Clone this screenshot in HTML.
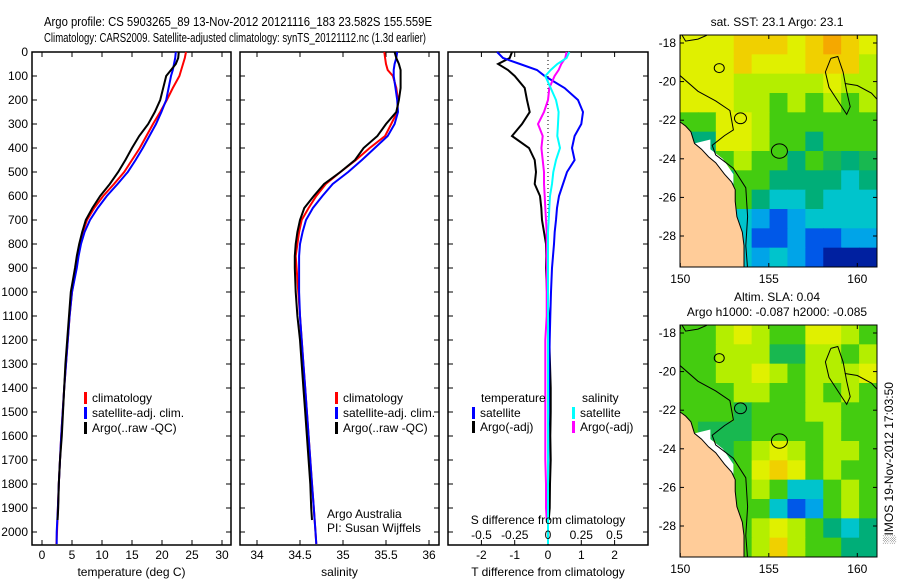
<!DOCTYPE html>
<html><head><meta charset="utf-8">
<style>
html,body{margin:0;padding:0;background:#fff;}
svg{display:block;font-family:"Liberation Sans",sans-serif;}
text{font-size:12px;fill:#000;}
</style></head>
<body>
<svg id="fig" width="900" height="580" viewBox="0 0 900 580" xmlns="http://www.w3.org/2000/svg">
<text x="44" y="26" style="font-size:13px" textLength="388" lengthAdjust="spacingAndGlyphs">Argo profile: CS 5903265_89 13-Nov-2012 20121116_183 23.582S 155.559E</text>
<text x="44" y="42" style="font-size:13px" textLength="382" lengthAdjust="spacingAndGlyphs">Climatology: CARS2009. Satellite-adjusted climatology: synTS_20121112.nc (1.3d earlier)</text>
<g id="g"></g>
</svg>
<script>
// ---------- data ----------
const depths = [0,25,50,75,100,150,200,250,300,350,400,450,500,550,600,650,700,750,800,850,900,1000,1100,1200,1300,1400,1500,1600,1700,1800,1900,2000,2050];
const argoDepths = [0,25,50,75,100,150,200,250,300,350,400,450,500,550,600,650,700,750,800,850,900,1000,1100,1200,1300,1400,1500,1600,1700,1800,1900,1950];
const tempClim = [24,23.8,23.5,23.2,22.9,21.8,20.8,19.7,18.5,17.4,16.3,15.0,13.7,12.0,10.2,8.7,7.5,6.8,6.3,6.0,5.7,5.0,4.6,4.3,4.0,3.7,3.45,3.2,3.0,2.8,2.65,2.5,2.4];
const tempSat = [22.3,22.2,22.0,21.8,21.5,21.1,20.7,19.9,19.0,17.9,16.8,15.6,14.3,12.6,10.8,9.3,8.0,7.1,6.5,6.1,5.8,5.0,4.6,4.3,4.0,3.7,3.45,3.2,3.0,2.8,2.65,2.45,2.45];
const tempArgo = [22.8,22.7,22.3,21.5,20.7,20.2,19.7,18.8,17.7,16.2,15.0,13.9,12.7,11.3,9.7,8.4,7.3,6.7,6.2,5.8,5.5,4.8,4.5,4.2,3.9,3.7,3.5,3.3,3.0,2.8,2.7,2.6];
const salClim = [35.48,35.49,35.50,35.52,35.58,35.62,35.64,35.63,35.56,35.49,35.31,35.15,34.97,34.80,34.69,34.60,34.52,34.49,34.47,34.45,34.46,34.48,34.50,34.52,34.54,34.56,34.58,34.60,34.62,34.64,34.66,34.68,34.69];
const salSat = [35.63,35.62,35.60,35.59,35.59,35.61,35.63,35.64,35.60,35.52,35.37,35.22,35.06,34.88,34.76,34.65,34.57,34.53,34.50,34.49,34.49,34.49,34.50,34.52,34.54,34.56,34.58,34.60,34.62,34.64,34.66,34.68,34.69];
const salArgo = [35.60,35.62,35.65,35.67,35.67,35.67,35.65,35.62,35.50,35.40,35.24,35.14,34.97,34.78,34.66,34.55,34.50,34.47,34.45,34.44,34.44,34.45,34.47,34.50,34.52,34.54,34.56,34.58,34.60,34.62,34.63,34.64];
const dTArgo = [-1.08,-1.15,-1.5,-1.2,-1.0,-0.7,-0.63,-0.55,-0.78,-1.08,-0.57,-0.4,-0.36,-0.4,-0.24,-0.2,-0.18,-0.12,-0.06,-0.05,-0.06,-0.03,0.02,0.04,0.06,0.08,0.08,0.07,0.08,0.06,0.05,0.02];
const dTSat = [-1.53,-1.35,-0.84,-0.33,-0.1,0.5,0.9,1.05,1.0,0.8,0.72,0.8,0.57,0.45,0.33,0.27,0.24,0.2,0.18,0.15,0.12,0.09,0.07,0.05,0.04,0.03,0.02,0.01,0.01,0,0,0,0];
const dSArgo = [0.14,0.13,0.1,0.08,0.05,0.01,0,-0.03,-0.075,-0.04,-0.05,-0.04,-0.03,-0.03,-0.025,-0.02,-0.015,-0.01,-0.01,-0.01,-0.01,-0.01,-0.01,-0.02,-0.02,-0.02,-0.02,-0.02,-0.02,-0.015,-0.015,-0.01];
const dSSat = [0.16,0.14,0.07,0.02,-0.02,0.02,0.06,0.08,0.075,0.07,0.09,0.06,0.04,0.03,0.015,0.01,0.005,0,0,0,0,0,0,0,0,0,0,0,0,0,0,0,0];
const depthTicks = [0,100,200,300,400,500,600,700,800,900,1000,1100,1200,1300,1400,1500,1600,1700,1800,1900,2000];
const tempTicks = [0,5,10,15,20,25,30];
const salTicks = [34,34.5,35,35.5,36];
const dTTicks = [-2,-1,0,1,2];
const dSTicks = [-0.5,-0.25,0,0.25,0.5];
const dSTickLabels = ["-0.5","-0.25","0","0.25","0.5"];
const latTicks = [18,20,22,24,26,28];
const lonTicks = [150,155,160];
const sstGrid = [
"YYYoooYoOoY","YYYoYYYoooL","YYYLLLLLYLL","YYYLLGLGLGL","GGYYLGGGGGG","TTYYLGGTGGG",
"TTGLGGTGgTg","TTTGGTTTTCT","TTTGTCCTCCC","TTGCcBcCCCC","TTGCBBcBBcc","TTTCcCcBDDD"];
const slaGrid = [
"GGLYLGGYYLG","GGLLLggLLGL","GGLLYLGLLLY","GGGLLGGLGLG","GGGgGGGLLGG","GgggGGGGLGG",
"GGgGLYLGLLG","GGgGYoYGLGG","GGgGLGCCGLG","GGGGGCBcGLG","GGGGLYLGTCT","GGGGLoLGGTT"];
const palette = {O:"#F5A800",o:"#F0D000",Y:"#E0F000",L:"#B4EE00",G:"#44CC10",g:"#18B850",T:"#00AE78",C:"#00C4CC",c:"#00A4E8",B:"#0058E8",D:"#0020A0"};
const coast = [[150,22.1],[150.3,22.3],[150.6,22.6],[150.8,23.2],[151.2,23.5],[151.6,23.9],[152,24.2],[152.5,24.8],[152.9,25.2],[153.1,25.6],[153.1,26.2],[153.2,27],[153.5,27.8],[153.6,28.5],[153.6,29.7],[150,29.7]];
const whiteZone = [[150.8,23.2],[151.7,23.0],[151.7,23.5],[152.4,24.0],[153.0,24.8],[153.0,25.3],[152.5,24.8],[152,24.2],[151.6,23.9],[151.2,23.5]];
const contour1 = [[150,19.7],[151,20.5],[152,21.0],[152.8,21.5],[153,22.5],[152.5,22.8],[151.8,23.3],[152,23.8],[153,24.5],[153.7,25.5],[153.8,27],[153.7,28.5],[153.8,29.7]];
const contour2 = [[158.5,18.8],[158.9,18.7],[159.2,19.5],[159.4,20.5],[159.6,21.3],[159.4,21.7],[158.9,21],[158.4,20.3],[158.2,19.5],[158.5,18.8]];
const contour3 = [[150.1,17.6],[150.3,17.9],[151,17.8],[151.5,17.6]];
const contour4 = [[159.3,20.1],[160,20.2],[160.8,20.6],[161.1,20.9]];

// ---------- helpers ----------
const NS="http://www.w3.org/2000/svg";
const G=document.getElementById('g');
function el(tag,attrs,parent){const e=document.createElementNS(NS,tag);for(const k in attrs)e.setAttribute(k,attrs[k]);(parent||G).appendChild(e);return e;}
function txt(x,y,s,anchor,parent){const t=el('text',{x:x,y:y,'text-anchor':anchor||'start'},parent);t.textContent=s;return t;}
const PT=52, PB=545;
const yD = d => PT + d*0.24;

function panel(name,x0,x1,xs,ticks,labels,xlabel){
  const g=el('g',{});
  
  
  const r=el('rect',{x:x0,y:PT,width:x1-x0,height:PB-PT,fill:'none',stroke:'#000','stroke-width':1.5},g);
  
  
  depthTicks.forEach(d=>{const y=yD(d);
    el('line',{x1:x0,x2:x0+5,y1:y,y2:y,stroke:'#000'},g);
    el('line',{x1:x1-5,x2:x1,y1:y,y2:y,stroke:'#000'},g);});
  ticks.forEach((v,i)=>{const x=xs(v);
    el('line',{x1:x,x2:x,y1:PB,y2:PB-5,stroke:'#000'},g);
    el('line',{x1:x,x2:x,y1:PT,y2:PT+5,stroke:'#000'},g);
    const t=txt(x,559,labels?labels[i]:String(v),'middle',g);
    
    });
  const xl=txt((x0+x1)/2,576,xlabel,'middle',g);
  
  
  return g;
}
function line(g,name,ds,vs,xs,color,w){
  const pts=vs.map((v,i)=>xs(v).toFixed(1)+','+yD(ds[i]).toFixed(1)).join(' ');
  const p=el('polyline',{points:pts,fill:'none',stroke:color,'stroke-width':w||2},g);
  
  
}
function legend(g,x,y,color,label){
  const b=el('rect',{x:x,y:y-10,width:3,height:12,fill:color},g);
  
  
  const t=txt(x+8,y,label,'start',g);
  
  
}

// depth labels
depthTicks.forEach(d=>{const t=txt(28,yD(d)+4,String(d),'end');
  
  });

// panel 1: temperature
const xT=v=>42+6*v;
const p1=panel('temperature-panel',32,231,xT,tempTicks,null,'temperature (deg C)');
line(p1,'temp-climatology-line',depths,tempClim,xT,'#ff0000');
line(p1,'temp-satellite-line',depths,tempSat,xT,'#0000ff');
line(p1,'temp-argo-line',argoDepths,tempArgo,xT,'#000000');
legend(p1,84,402,'#ff0000','climatology');
legend(p1,84,417,'#0000ff','satellite-adj. clim.');
legend(p1,84,432,'#000000','Argo(..raw -QC)');

// panel 2: salinity
const xS=v=>257+86*(v-34);
const p2=panel('salinity-panel',240,439,xS,salTicks,null,'salinity');
line(p2,'sal-climatology-line',depths,salClim,xS,'#ff0000');
line(p2,'sal-satellite-line',depths,salSat,xS,'#0000ff');
line(p2,'sal-argo-line',argoDepths,salArgo,xS,'#000000');
legend(p2,335,402,'#ff0000','climatology');
legend(p2,335,417,'#0000ff','satellite-adj. clim.');
legend(p2,335,432,'#000000','Argo(..raw -QC)');
const c1=txt(327,518,'Argo Australia','start',p2);


const c2=txt(327,532,'PI: Susan Wijffels','start',p2);



// panel 3: differences
const xdT=v=>548+33.3*v;
const xdS=v=>548+133*v;
const p3=panel('difference-panel',448,648,xdT,dTTicks,null,'T difference from climatology');
const zl=el('line',{x1:548,x2:548,y1:PT,y2:PB,stroke:'#000','stroke-dasharray':'1,3'},p3);


line(p3,'dT-argo-line',argoDepths,dTArgo,xdT,'#000000');
line(p3,'dT-satellite-line',depths,dTSat,xdT,'#0000ff');
line(p3,'dS-argo-line',argoDepths,dSArgo,xdS,'#ff00ff');
line(p3,'dS-satellite-line',depths,dSSat,xdS,'#00ffff');
dSTicks.forEach((v,i)=>{const t=txt(xdS(v),539,dSTickLabels[i],'middle',p3);
  
  });
const sdl=txt(548,524,'S difference from climatology','middle',p3);


const lt1=txt(481,402,'temperature','start',p3);


const lt2=txt(582,402,'salinity','start',p3);


legend(p3,472,417,'#0000ff','satellite');
legend(p3,472,431,'#000000','Argo(-adj)');
legend(p3,572,417,'#00ffff','satellite');
legend(p3,572,431,'#ff00ff','Argo(-adj)');

// ---------- maps ----------
function map(name,top,grid,title1,title2){
  const g=el('g',{});
  
  
  const L=680,R=877,B=top+232;
  const mx=lon=>680.3+17.7*(lon-150);
  const my=lat=>top+8+19.3*(lat-18);
  const clip=el('clipPath',{id:'clip'+top},g);
  el('rect',{x:L,y:top,width:R-L,height:B-top},clip);
  const cg=el('g',{'clip-path':'url(#clip'+top+')'},g);
  const cw=(R-L)/11, ch=(B-top)/12;
  grid.forEach((row,r)=>{[...row].forEach((k,c)=>{
    const cell=el('rect',{x:L+c*cw,y:top+r*ch,width:cw+0.6,height:ch+0.6,fill:palette[k]},cg);
    
    });});
  const poly=(pts,fill,stroke,nm)=>{const p=el('polyline',{points:pts.map(p=>mx(p[0]).toFixed(1)+','+my(p[1]).toFixed(1)).join(' '),fill:fill,stroke:stroke,'stroke-width':1},cg);
    
    };
  poly(whiteZone,'#fff','none','missing-data-zone');
  poly(coast,'#FFCC99','#000','land');
  poly(contour1,'none','#000','depth-contour');
  poly(contour2,'none','#000','depth-contour');
  poly(contour3,'none','#000','depth-contour');
  poly(contour4,'none','#000','depth-contour');
  [[155.6,23.6,8],[152.2,19.3,5],[153.4,21.9,6]].forEach(c=>{
    const ci=el('ellipse',{cx:mx(c[0]),cy:my(c[1]),rx:c[2],ry:c[2]*0.9,fill:'none',stroke:'#000','stroke-width':1},cg);
    
    });
  const fr=el('rect',{x:L,y:top,width:R-L,height:B-top,fill:'none',stroke:'#000','stroke-width':1},g);
  
  
  latTicks.forEach(v=>{const y=my(v);
    el('line',{x1:L,x2:L+4,y1:y,y2:y,stroke:'#000'},g);
    el('line',{x1:R-4,x2:R,y1:y,y2:y,stroke:'#000'},g);
    const t=txt(676,y+4,'-'+v,'end',g);
    
    });
  lonTicks.forEach(v=>{const x=mx(v);
    el('line',{x1:x,x2:x,y1:B,y2:B-4,stroke:'#000'},g);
    el('line',{x1:x,x2:x,y1:top,y2:top+4,stroke:'#000'},g);
    const t=txt(x,B+16,String(v),'middle',g);
    
    });
  if(title2){
    const t1=txt(777,top-24,title1,'middle',g);
    
    
    const t2=txt(777,top-9,title2,'middle',g);
    
    
  } else {
    const t1=txt(777,top-9,title1,'middle',g);
    
    
  }
}
map('sst-map',35,sstGrid,'sat. SST: 23.1 Argo: 23.1');
map('sla-map',325,slaGrid,'Altim. SLA: 0.04','Argo h1000: -0.087 h2000: -0.085');
const stamp=txt(0,0,'\u2591IMOS 19-Nov-2012 17:03:50','middle');
stamp.setAttribute('transform','translate(893,463) rotate(-90)');


</script>
</body></html>
